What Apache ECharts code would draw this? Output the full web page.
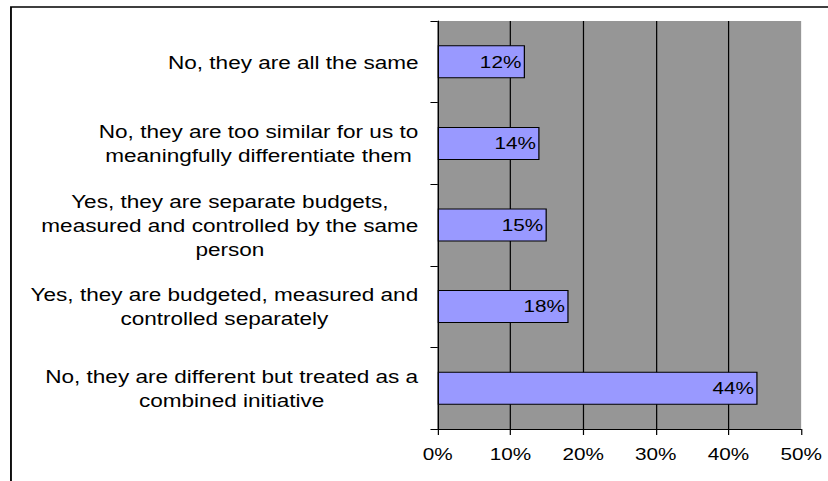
<!DOCTYPE html>
<html><head><meta charset="utf-8">
<script src="https://cdn.jsdelivr.net/npm/echarts@6/dist/echarts.min.js"></script>
<style>
html,body{margin:0;padding:0;background:#fff;overflow:hidden}
#c{width:679px;height:481px;transform:scaleX(1.2194);transform-origin:0 0}
</style></head>
<body><div id="c"></div>
<script>
const categories = [
  'No, they are all the same',
  'No, they are too similar for us to\nmeaningfully differentiate them',
  'Yes, they are separate budgets,\nmeasured and controlled by the same\nperson',
  'Yes, they are budgeted, measured and\ncontrolled separately',
  'No, they are different but treated as a\ncombined initiative'
];
const values = [12, 14, 15, 18, 44];
const xTicks = ['0%', '10%', '20%', '30%', '40%', '50%'];

const FONT = '"Liberation Sans", Arial, sans-serif';
const CAT_SIZE = 18.5;
const ctx = document.createElement('canvas').getContext('2d');
ctx.font = CAT_SIZE + 'px ' + FONT;
const rich = {};
categories.forEach((c, i) => {
  const w = Math.max(...c.split('\n').map(l => ctx.measureText(l).width));
  rich['r' + i] = {width: Math.ceil(w) + 1, align: 'center', fontSize: CAT_SIZE, lineHeight: 24, fontFamily: FONT, color: '#000'};
});

const chart = echarts.init(document.getElementById('c'), null, {renderer: 'svg'});
chart.setOption({
  animation: false,
  backgroundColor: '#fff',
  graphic: [{
    type: 'rect', silent: true,
    shape: {x: 9, y: 7, width: 1000, height: 1000},
    style: {fill: 'none', stroke: '#000', lineWidth: 1.5}
  }],
  grid: {left: 359, top: 21, width: 298, height: 408, show: true, backgroundColor: '#969696', borderWidth: 0},
  xAxis: {
    type: 'value', min: 0, max: 50, interval: 10,
    axisLine: {show: true, lineStyle: {color: '#000', width: 1}},
    axisTick: {show: true, length: 6, lineStyle: {color: '#000'}},
    splitLine: {show: true, showMaxLine: false, lineStyle: {color: '#000', width: 1}},
    axisLabel: {fontSize: 17, fontFamily: FONT, color: '#000', margin: 17,
      formatter: v => xTicks[Math.round(v / 10)]}
  },
  yAxis: {
    type: 'category', inverse: true, data: categories,
    axisLine: {show: true, lineStyle: {color: '#000', width: 1}},
    axisTick: {show: true, length: 6, lineStyle: {color: '#000'}},
    splitLine: {show: false},
    axisLabel: {margin: 15, fontSize: CAT_SIZE, fontFamily: FONT, color: '#000', rich: rich,
      formatter: (v, i) => v.split('\n').map(l => '{r' + i + '|' + l + '}').join('\n')}
  },
  series: [{
    type: 'bar', data: values, barWidth: 33,
    itemStyle: {color: '#9999FF', borderColor: '#000', borderWidth: 1},
    label: {show: true, position: 'insideRight', distance: 3, formatter: '{c}%',
      fontSize: 17, fontFamily: FONT, color: '#000'}
  }]
});
</script>
</body></html>
